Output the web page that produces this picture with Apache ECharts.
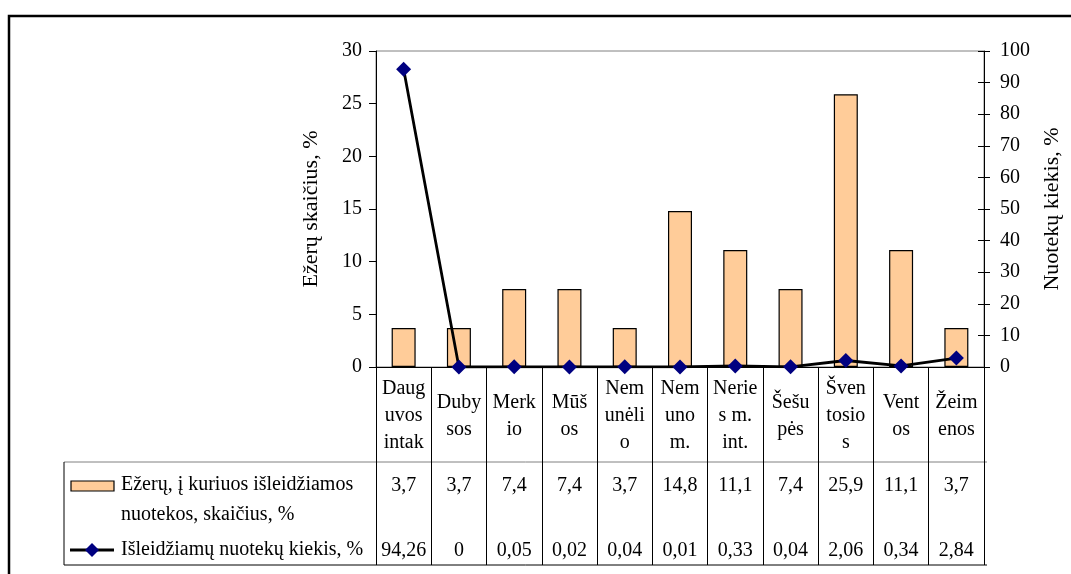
<!DOCTYPE html>
<html>
<head>
<meta charset="utf-8">
<style>
html,body{margin:0;padding:0;background:#fff;}
#chart{width:1071px;height:574px;}
</style>
<script src="https://cdn.jsdelivr.net/npm/echarts@6/dist/echarts.min.js"></script>
</head>
<body>
<div id="chart"></div>
<script>
// ---- data ----
var categories = ['Daug\nuvos\nintak', 'Duby\nsos', 'Merk\nio', 'Mūš\nos', 'Nem\nunėli\no', 'Nem\nuno\nm.', 'Nerie\ns m.\nint.', 'Šešu\npės', 'Šven\ntosio\ns', 'Vent\nos', 'Žeim\nenos'];
var lakeShare = [3.7, 3.7, 7.4, 7.4, 3.7, 14.8, 11.1, 7.4, 25.9, 11.1, 3.7];
var wasteShare = [94.26, 0, 0.05, 0.02, 0.04, 0.01, 0.33, 0.04, 2.06, 0.34, 2.84];
var barSeriesName = 'Ežerų, į kuriuos išleidžiamos\nnuotekos, skaičius, %';
var lineSeriesName = 'Išleidžiamų nuotekų kiekis, %';
var leftAxisName = 'Ežerų skaičius, %';
var rightAxisName = 'Nuotekų kiekis, %';

// ---- layout ----
var FONT = 'Liberation Serif';
var FS = 20;
var G_LEFT = 376, G_RIGHT_X = 987, G_TOP = 51, G_BOTTOM_Y = 367;
var W = 1071, H = 574;
var TABLE_MID = 462, TABLE_BOTTOM = 565, TABLE_LEFT = 64;

function fmt(v) { return String(v).replace('.', ','); }

var chart = echarts.init(document.getElementById('chart'), null, {renderer: 'canvas'});

var hidden = {show: false};
var option = {
  animation: false,
  backgroundColor: '#fff',
  textStyle: {fontFamily: FONT, color: '#000'},
  grid: {
    left: G_LEFT, right: W - G_RIGHT_X, top: G_TOP, bottom: H - G_BOTTOM_Y,
    show: true, borderColor: '#808080', borderWidth: 1, backgroundColor: 'transparent'
  },
  xAxis: [
    {
      type: 'category', data: categories, position: 'bottom',
      axisLine: {show: true, lineStyle: {color: '#000', width: 1}},
      axisTick: {show: true, alignWithLabel: false, interval: 0, length: TABLE_BOTTOM - G_BOTTOM_Y, lineStyle: {color: '#000', width: 1}},
      axisLabel: {interval: 0, margin: 49, verticalAlign: 'middle', lineHeight: 27, fontFamily: FONT, fontSize: FS, color: '#000'},
      splitLine: hidden
    },
    {
      type: 'category', data: lakeShare.map(fmt), position: 'bottom',
      axisLine: hidden, axisTick: hidden, splitLine: hidden,
      axisLabel: {interval: 0, margin: 119, verticalAlign: 'middle', fontFamily: FONT, fontSize: FS, color: '#000'}
    },
    {
      type: 'category', data: wasteShare.map(fmt), position: 'bottom',
      axisLine: hidden, axisTick: hidden, splitLine: hidden,
      axisLabel: {interval: 0, margin: 184, verticalAlign: 'middle', fontFamily: FONT, fontSize: FS, color: '#000'}
    }
  ],
  yAxis: [
    {
      type: 'value', min: 0, max: 30, interval: 5, position: 'left',
      name: leftAxisName, nameLocation: 'middle', nameRotate: 90, nameGap: 54,
      nameTextStyle: {fontFamily: FONT, fontSize: 22, color: '#000'},
      axisLine: {show: true, lineStyle: {color: '#000', width: 1}},
      axisTick: {show: true, inside: false, length: 7, lineStyle: {color: '#000'}},
      axisLabel: {margin: 14, fontFamily: FONT, fontSize: FS, color: '#000'},
      splitLine: hidden
    },
    {
      type: 'value', min: 0, max: 100, interval: 10, position: 'right',
      name: rightAxisName, nameLocation: 'middle', nameRotate: 90, nameGap: 57,
      nameTextStyle: {fontFamily: FONT, fontSize: 22, color: '#000'},
      axisLine: {show: true, lineStyle: {color: '#000', width: 1}},
      axisTick: {show: true, inside: false, length: 6, lineStyle: {color: '#000'}},
      axisLabel: {margin: 16, fontFamily: FONT, fontSize: FS, color: '#000'},
      splitLine: hidden
    },
    {
      type: 'value', min: 0, max: 100, interval: 10, position: 'right',
      axisLine: hidden, axisLabel: hidden, splitLine: hidden,
      axisTick: {show: true, inside: true, length: 6, lineStyle: {color: '#000'}}
    }
  ],
  series: [
    {
      name: barSeriesName, type: 'bar', data: lakeShare, xAxisIndex: 0, yAxisIndex: 0,
      barWidth: 24,
      itemStyle: {color: '#FFCC99', borderColor: '#000', borderWidth: 1.2}
    },
    {
      name: lineSeriesName, type: 'line', data: wasteShare, xAxisIndex: 0, yAxisIndex: 1,
      symbol: 'diamond', symbolSize: 15, showAllSymbol: true,
      lineStyle: {color: '#000', width: 2.8},
      itemStyle: {color: '#000080', borderWidth: 0},
      z: 5
    }
  ],
  graphic: [
    // outer frame
    {type: 'rect', shape: {x: 9, y: 16, width: 1120, height: 640}, style: {fill: null, stroke: '#000', lineWidth: 2.5}, silent: true},
    // data table borders
    {type: 'line', shape: {x1: TABLE_LEFT, y1: TABLE_MID, x2: G_RIGHT_X, y2: TABLE_MID}, style: {stroke: '#808080', lineWidth: 1}},
    {type: 'line', shape: {x1: TABLE_LEFT, y1: TABLE_BOTTOM, x2: G_RIGHT_X, y2: TABLE_BOTTOM}, style: {stroke: '#000', lineWidth: 1}},
    {type: 'line', shape: {x1: TABLE_LEFT, y1: TABLE_MID, x2: TABLE_LEFT, y2: TABLE_BOTTOM}, style: {stroke: '#000', lineWidth: 1}},
    // legend keys
    {type: 'rect', shape: {x: 71, y: 481, width: 43, height: 10}, style: {fill: '#FFCC99', stroke: '#000', lineWidth: 1.2}},
    {type: 'text', x: 121, y: 470, style: {text: barSeriesName, font: FS + 'px ' + FONT, fill: '#000', verticalAlign: 'top', lineHeight: 30}},
    {type: 'line', shape: {x1: 70, y1: 550, x2: 114, y2: 550}, style: {stroke: '#000', lineWidth: 2.8}},
    {type: 'polygon', shape: {points: [[92, 543], [99, 550], [92, 557], [85, 550]]}, style: {fill: '#000080'}},
    {type: 'text', x: 121, y: 550, style: {text: lineSeriesName, font: FS + 'px ' + FONT, fill: '#000', verticalAlign: 'middle'}}
  ]
};
chart.setOption(option);
</script>
</body>
</html>
